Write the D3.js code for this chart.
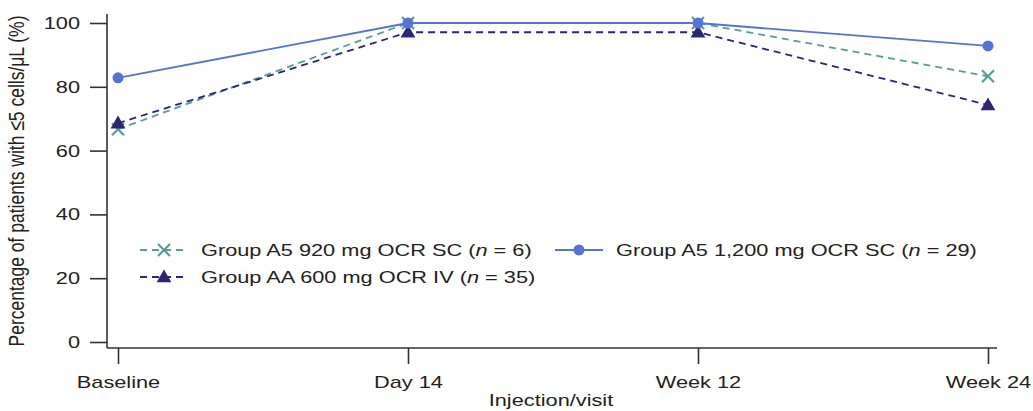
<!DOCTYPE html>
<html>
<head>
<meta charset="utf-8">
<style>
  body { margin: 0; background: #fff; }
  text { font-family: "Liberation Sans", Arial, sans-serif; fill: #222; }
</style>
</head>
<body>
<div id="chart"></div>
<script src="https://cdn.jsdelivr.net/npm/d3@7/dist/d3.min.js"></script>
<script>
var visits = ["Baseline", "Day 14", "Week 12", "Week 24"];
var yTicks = [0, 20, 40, 60, 80, 100];
var a5_920 = [66.7, 100, 100, 83.3];
var a5_1200 = [82.8, 100, 100, 92.8];
var aa_600 = [68.6, 97.1, 97.1, 74.3];

var series = [
  { label: "Group A5 920 mg OCR SC", n: 6, values: a5_920, color: "#5b9c99", dash: "7,5", symbol: "cross" },
  { label: "Group A5 1,200 mg OCR SC", n: 29, values: a5_1200, color: "#5573d4", dash: null, symbol: "circle" },
  { label: "Group AA 600 mg OCR IV", n: 35, values: aa_600, color: "#2b2770", dash: "7,5", symbol: "triangle" }
];

var width = 1033, height = 411;
var stretchX = 1.28;
var svg = d3.select("#chart").append("svg").attr("width", width).attr("height", height);

// the source picture is stretched horizontally, so text is widened about its anchor
function stretch(sel) {
  sel.each(function() {
    var t = d3.select(this);
    var tx = +t.attr("x") || 0;
    t.attr("transform", "translate(" + tx + ",0) scale(" + stretchX + ",1) translate(" + (-tx) + ",0)");
  });
}

var x = d3.scalePoint().domain(visits).range([118, 988]);
var y = d3.scaleLinear().domain([0, 100]).range([342, 23]);

// axes
var yAxis = svg.append("g").attr("transform", "translate(107,0)")
  .call(d3.axisLeft(y).tickValues(yTicks).tickSize(17).tickPadding(10));
yAxis.select(".domain").attr("d", "M0,14V348");
yAxis.selectAll("text").style("font-size", "17px").call(stretch);

var xAxis = svg.append("g").attr("transform", "translate(0,348)")
  .call(d3.axisBottom(x).tickSize(16).tickPadding(9));
xAxis.select(".domain").attr("d", "M107,0H997");
xAxis.selectAll("text").style("font-size", "17px").attr("dy", "0.9em").call(stretch);

svg.selectAll(".domain, .tick line").attr("stroke", "#333").attr("stroke-width", 1.6);

svg.append("text").attr("x", 551).attr("y", 406).attr("text-anchor", "middle")
  .style("font-size", "17px").text("Injection/visit").call(stretch);

svg.append("text").attr("transform", "translate(24,181) rotate(-90) scale(1," + stretchX + ")")
  .attr("text-anchor", "middle")
  .style("font-size", "17.5px").text("Percentage of patients with ≤5 cells/μL (%)");

function drawSymbol(g, s, cx, cy) {
  if (s.symbol === "circle") {
    g.append("circle").attr("cx", cx).attr("cy", cy).attr("r", 5.5).attr("fill", s.color);
  } else if (s.symbol === "triangle") {
    g.append("path").attr("d", d3.symbol(d3.symbolTriangle, 95)())
      .attr("transform", "translate(" + cx + "," + (cy + 1) + ")").attr("fill", s.color);
  } else {
    var r = 6;
    g.append("path").attr("d", "M" + (cx - r) + "," + (cy - r) + "L" + (cx + r) + "," + (cy + r) +
      "M" + (cx - r) + "," + (cy + r) + "L" + (cx + r) + "," + (cy - r))
      .attr("stroke", s.color).attr("stroke-width", 2.2).attr("fill", "none");
  }
}

var line = d3.line().x(function(d, i) { return x(visits[i]); }).y(function(d) { return y(d); });

var drawOrder = [series[0], series[2], series[1]];
drawOrder.forEach(function(s) {
  var g = svg.append("g");
  g.append("path").datum(s.values).attr("d", line).attr("fill", "none")
    .attr("stroke", s.color).attr("stroke-width", 1.8).attr("stroke-dasharray", s.dash);
  s.values.forEach(function(v, i) { drawSymbol(g, s, x(visits[i]), y(v)); });
});

// legend
var legendPos = [
  { s: series[0], x: 140, y: 250 },
  { s: series[1], x: 555, y: 250 },
  { s: series[2], x: 140, y: 277 }
];
legendPos.forEach(function(p) {
  var g = svg.append("g");
  g.append("line").attr("x1", p.x).attr("x2", p.x + 48).attr("y1", p.y).attr("y2", p.y)
    .attr("stroke", p.s.color).attr("stroke-width", 1.8).attr("stroke-dasharray", p.s.dash ? "7,5" : null);
  drawSymbol(g, p.s, p.x + 24, p.y);
  var t = g.append("text").attr("x", p.x + 61).attr("y", p.y).attr("dy", "0.35em").style("font-size", "17px");
  t.append("tspan").text(p.s.label + " (");
  t.append("tspan").style("font-style", "italic").text("n");
  t.append("tspan").text(" = " + p.s.n + ")");
  t.call(stretch);
});
</script>
</body>
</html>
